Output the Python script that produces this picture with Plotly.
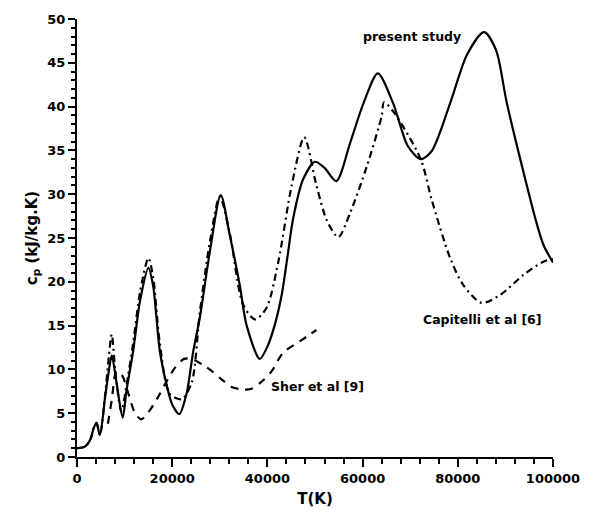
import plotly.graph_objects as go

# Present study (solid)
T_present = [0, 1700, 2800, 3500, 4100, 4800, 5900, 6600, 7300, 8300, 9600, 10400, 11800, 13300,
             15000, 16000, 17400, 18800, 20000, 21500, 23000, 24400, 25800, 27900, 30200, 32100,
             34200, 35600, 38400, 40000, 41500, 43000, 44200, 45400, 47500, 50000, 52000, 54500,
             57400, 60200, 63200, 66400, 69500, 72200, 74500, 78400, 82000, 85500, 88000, 90300,
             94500, 96500, 98000, 100000]
cp_present = [1.0, 1.2, 2.0, 3.3, 3.9, 2.5, 6.8, 9.5, 11.6, 8.5, 4.5, 7.6, 12.1, 18.0,
              21.6, 19.5, 12.1, 8.3, 6.0, 4.9, 7.2, 12.0, 15.9, 23.4, 29.9, 25.3,
              19.6, 15.1, 11.2, 12.6, 15.0, 18.5, 22.8, 27.2, 31.7, 33.7, 33.0, 31.5,
              35.9, 40.4, 43.8, 40.4, 35.5, 34.0, 34.9, 40.4, 46.0, 48.5, 46.5, 40.4,
              31.0, 26.8, 24.2, 22.2]

# Capitelli et al [6] (dash-dot)
T_capitelli = [0, 1700, 2800, 3500, 4100, 4800, 5900, 6700, 7300, 8100, 9300, 10400, 11800, 13300,
               15000, 16000, 17400, 19500, 22000, 24100, 25800, 27900, 30000, 32100, 34900, 37400,
               39800, 42300, 45100, 47750, 50300, 52500, 54900, 57400, 60900, 64000, 64500, 66500,
               72200, 74500, 78400, 81200, 85000, 88900, 93800, 98000, 100000]
cp_capitelli = [1.0, 1.2, 2.0, 3.3, 3.9, 2.5, 7.0, 11.5, 14.0, 9.5, 5.2, 8.2, 13.0, 19.0,
                22.7, 20.5, 13.0, 7.2, 6.6, 8.5, 16.5, 24.5, 29.7, 25.5, 17.4, 15.7,
                17.0, 22.3, 31.0, 36.5, 31.0, 27.0, 25.1, 27.9, 33.2, 38.9, 40.5, 39.4,
                34.0, 29.4, 22.7, 19.6, 17.6, 18.5, 20.8, 22.3, 22.6]

# Sher et al [9] (dashed)
T_sher = [6500, 7300, 8300, 9500, 10700, 12200, 13500, 15500, 17400, 19000, 20600, 22500, 24100,
          26500, 28600, 30500, 32500, 34800, 36700, 39000, 40900, 43300, 46800, 50300]
cp_sher = [3.8, 6.5, 9.8, 9.3, 7.4, 5.0, 4.3, 5.5, 7.2, 8.8, 10.2, 11.2, 11.2,
           10.5, 9.7, 8.8, 8.0, 7.7, 7.8, 8.7, 9.8, 11.9, 13.2, 14.5]

X_RANGE = [0, 100000]
Y_RANGE = [0, 50]
X_MAJOR, X_MINOR = 20000, 4000
Y_MAJOR, Y_MINOR = 5, 1

FONT = "DejaVu Sans"

fig = go.Figure()
fig.add_trace(go.Scatter(x=T_present, y=cp_present, mode="lines", name="present study",
                         line=dict(color="black", width=2.2, shape="spline", smoothing=0.8)))
fig.add_trace(go.Scatter(x=T_capitelli, y=cp_capitelli, mode="lines", name="Capitelli et al [6]",
                         line=dict(color="black", width=2.2, shape="spline", smoothing=0.8,
                                   dash="7px,4px,2px,4px")))
fig.add_trace(go.Scatter(x=T_sher, y=cp_sher, mode="lines", name="Sher et al [9]",
                         line=dict(color="black", width=2.2, shape="spline", smoothing=0.8,
                                   dash="8px,7px")))

ann_font = dict(family=FONT, size=12.5, color="black", weight="bold")
fig.add_annotation(x=70400, y=48.0, xref="x", yref="y", text="present study",
                   showarrow=False, font=ann_font)
fig.add_annotation(x=85100, y=15.7, xref="x", yref="y", text="Capitelli et al [6]",
                   showarrow=False, font=ann_font)
fig.add_annotation(x=50600, y=8.1, xref="x", yref="y", text="Sher et al [9]",
                   showarrow=False, font=ann_font)

tick_font = dict(family=FONT, size=13, color="black", weight="bold")
title_font = dict(family=FONT, size=15, color="black", weight="bold")

fig.update_layout(
    width=592, height=523, margin=dict(l=77, r=39, t=15, b=66),
    paper_bgcolor="white", plot_bgcolor="white", showlegend=False,
    xaxis=dict(range=X_RANGE, showline=True, linewidth=2, linecolor="#000000",
               ticks="outside", ticklen=8, tickwidth=2, tickcolor="#000000",
               tickmode="linear", dtick=X_MAJOR, tick0=0, tickformat="d",
               showgrid=False, zeroline=False, tickfont=tick_font,
               minor=dict(ticks="outside", ticklen=5, tickwidth=1.5, tickcolor="#000000",
                          dtick=X_MINOR, tick0=0, showgrid=False),
               title=dict(text="T(K)", font=title_font, standoff=9)),
    yaxis=dict(range=Y_RANGE, showline=True, linewidth=2, linecolor="#000000",
               ticks="outside", ticklen=7, tickwidth=2, tickcolor="#000000",
               tickmode="linear", dtick=Y_MAJOR, tick0=0,
               showgrid=False, zeroline=False, tickfont=tick_font,
               minor=dict(ticks="outside", ticklen=4, tickwidth=1.5, tickcolor="#000000",
                          dtick=Y_MINOR, tick0=0, showgrid=False),
               title=dict(text="c<sub>p</sub> (kJ/kg.K)", font=title_font, standoff=6)),
)

fig.write_html("out.html")
